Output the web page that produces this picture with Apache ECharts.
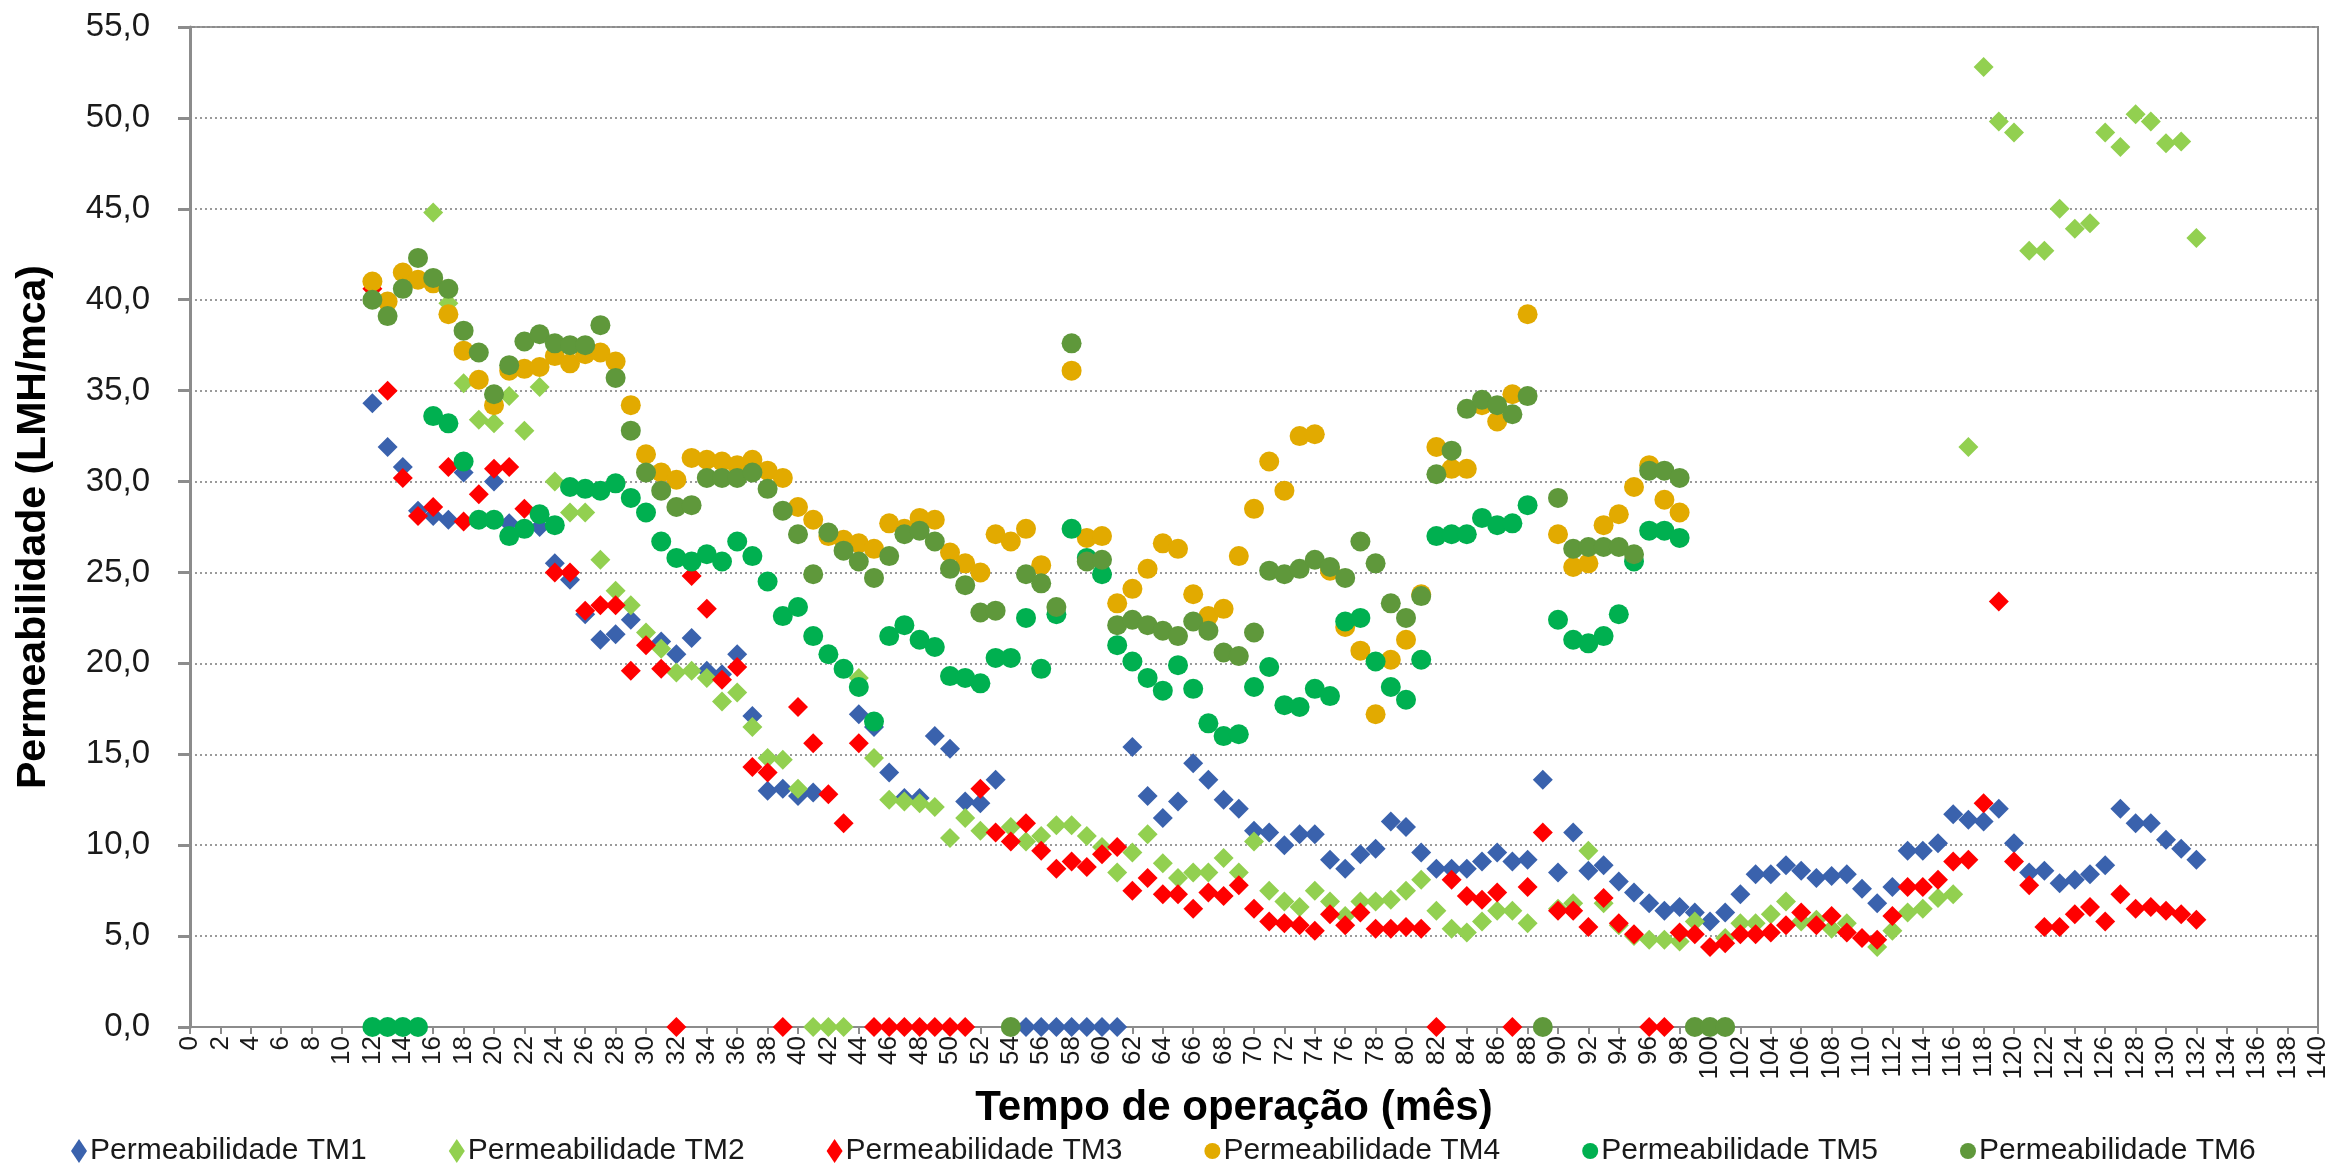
<!DOCTYPE html>
<html>
<head>
<meta charset="utf-8">
<script src="https://cdn.jsdelivr.net/npm/echarts@6/dist/echarts.min.js"></script>
<style>
  html, body { margin: 0; padding: 0; background: #fff; }
  #chart { width: 2331px; height: 1167px; }
</style>
</head>
<body>
<div id="chart"></div>
<script>
// meses de operação: cada série começa num mês e segue mês a mês
var tm1Start = 12;
var tm1 = [34.3, 31.9, 30.8, 28.4, 28.1, 27.9, 30.5, null, 30.0, 27.7,
  null, 27.5, 25.5, 24.6, 22.7, 21.3, 21.6, 22.4, null, 21.2,
  20.5, 21.4, 19.6, 19.4, 20.5, 17.1, 13.0, 13.1, 12.7, 12.9,
  null, null, 17.2, 16.5, 14.0, 12.6, 12.6, 16.0, 15.3, 12.4,
  12.3, 13.6, null, 0, 0, 0, 0, 0, 0, 0,
  15.4, 12.7, 11.5, 12.4, 14.5, 13.6, 12.5, 12.0, 10.8, 10.7,
  10.0, 10.6, 10.6, 9.2, 8.7, 9.5, 9.8, 11.3, 11.0, 9.6,
  8.7, 8.7, 8.7, 9.1, 9.6, 9.1, 9.2, 13.6, 8.5, 10.7,
  8.6, 8.9, 8.0, 7.4, 6.8, 6.4, 6.6, 6.3, 5.8, 6.3,
  7.3, 8.4, 8.4, 8.9, 8.6, 8.2, 8.3, 8.4, 7.6, 6.8,
  7.7, 9.7, 9.7, 10.1, 11.7, 11.4, 11.3, 12.0, 10.1, 8.5,
  8.6, 7.9, 8.1, 8.4, 8.9, 12.0, 11.2, 11.2, 10.3, 9.8,
  9.2];

var tm2Start = 12;
var tm2 = [null, null, null, null, 44.8, 39.8, 35.4, 33.4, 33.2, 34.7,
  32.8, 35.2, 30.0, 28.3, 28.3, 25.7, 24.0, 23.2, 21.7, 20.8,
  19.5, 19.6, 19.2, 17.9, 18.4, 16.5, 14.8, 14.7, 13.1, 0,
  0, 0, 19.2, 14.8, 12.5, 12.4, 12.3, 12.1, 10.4, 11.5,
  10.8, null, 11.0, 10.2, 10.5, 11.1, 11.1, 10.5, 9.9, 8.5,
  9.6, 10.6, 9.0, 8.2, 8.5, 8.5, 9.3, 8.5, 10.2, 7.5,
  6.9, 6.6, 7.5, 6.9, 6.1, 6.9, 6.9, 7.0, 7.5, 8.1,
  6.4, 5.4, 5.2, 5.8, 6.4, 6.4, 5.7, null, 6.5, 6.8,
  9.7, 6.8, 5.6, 5.0, 4.8, 4.8, 4.7, 5.8, null, 4.9,
  5.7, 5.7, 6.2, 6.9, 5.8, 5.9, 5.4, 5.7, null, 4.4,
  5.3, 6.3, 6.5, 7.1, 7.3, 31.9, 52.8, 49.8, 49.2, 42.7,
  42.7, 45.0, 43.9, 44.2, 49.2, 48.4, 50.2, 49.8, 48.6, 48.7,
  43.4];

var tm3Start = 12;
var tm3 = [40.6, 35.0, 30.2, 28.1, 28.6, 30.8, 27.8, 29.3, 30.7, 30.8,
  28.5, null, 25.0, 25.0, 22.9, 23.2, 23.2, 19.6, 21.0, 19.7,
  0, 24.8, 23.0, 19.1, 19.8, 14.3, 14.0, 0, 17.6, 15.6,
  12.8, 11.2, 15.6, 0, 0, 0, 0, 0, 0, 0,
  13.1, 10.7, 10.2, 11.2, 9.7, 8.7, 9.1, 8.8, 9.5, 9.9,
  7.5, 8.2, 7.3, 7.3, 6.5, 7.4, 7.2, 7.8, 6.5, 5.8,
  5.7, 5.6, 5.3, 6.2, 5.6, 6.3, 5.4, 5.4, 5.5, 5.4,
  0, 8.1, 7.2, 7.0, 7.4, 0, 7.7, 10.7, 6.4, 6.4,
  5.5, 7.1, 5.7, 5.1, 0, 0, 5.2, 5.1, 4.4, 4.6,
  5.1, 5.1, 5.2, 5.6, 6.3, 5.6, 6.1, 5.2, 4.9, 4.8,
  6.1, 7.7, 7.7, 8.1, 9.1, 9.2, 12.3, 23.4, 9.1, 7.8,
  5.5, 5.5, 6.2, 6.6, 5.8, 7.3, 6.5, 6.6, 6.4, 6.2,
  5.9];

var tm4Start = 12;
var tm4 = [41.0, 39.9, 41.5, 41.1, 40.9, 39.2, 37.2, 35.6, 34.2, 36.1,
  36.2, 36.3, 36.9, 36.5, 37.0, 37.1, 36.6, 34.2, 31.5, 30.5,
  30.1, 31.3, 31.2, 31.1, 30.9, 31.2, 30.6, 30.2, 28.6, 27.9,
  27.0, 26.8, 26.6, 26.3, 27.7, 27.4, 28.0, 27.9, 26.1, 25.5,
  25.0, 27.1, 26.7, 27.4, 25.4, null, 36.1, 26.9, 27.0, 23.3,
  24.1, 25.2, 26.6, 26.3, 23.8, 22.6, 23.0, 25.9, 28.5, 31.1,
  29.5, 32.5, 32.6, 25.1, 22.0, 20.7, 17.2, 20.2, 21.3, 23.8,
  31.9, 30.7, 30.7, 34.2, 33.3, 34.8, 39.2, null, 27.1, 25.3,
  25.5, 27.6, 28.2, 29.7, 30.9, 29.0, 28.3];

var tm5Start = 12;
var tm5 = [0, 0, 0, 0, 33.6, 33.2, 31.1, 27.9, 27.9, 27.0,
  27.4, 28.2, 27.6, 29.7, 29.6, 29.5, 29.9, 29.1, 28.3, 26.7,
  25.8, 25.6, 26.0, 25.6, 26.7, 25.9, 24.5, 22.6, 23.1, 21.5,
  20.5, 19.7, 18.7, 16.8, 21.5, 22.1, 21.3, 20.9, 19.3, 19.2,
  18.9, 20.3, 20.3, 22.5, 19.7, 22.7, 27.4, 25.8, 24.9, 21.0,
  20.1, 19.2, 18.5, 19.9, 18.6, 16.7, 16.0, 16.1, 18.7, 19.8,
  17.7, 17.6, 18.6, 18.2, 22.3, 22.5, 20.1, 18.7, 18.0, 20.2,
  27.0, 27.1, 27.1, 28.0, 27.6, 27.7, 28.7, null, 22.4, 21.3,
  21.1, 21.5, 22.7, 25.6, 27.3, 27.3, 26.9];

var tm6Start = 12;
var tm6 = [40.0, 39.1, 40.6, 42.3, 41.2, 40.6, 38.3, 37.1, 34.8, 36.4,
  37.7, 38.1, 37.6, 37.5, 37.5, 38.6, 35.7, 32.8, 30.5, 29.5,
  28.6, 28.7, 30.2, 30.2, 30.2, 30.5, 29.6, 28.4, 27.1, 24.9,
  27.2, 26.2, 25.6, 24.7, 25.9, 27.1, 27.3, 26.7, 25.2, 24.3,
  22.8, 22.9, 0, 24.9, 24.4, 23.1, 37.6, 25.6, 25.7, 22.1,
  22.4, 22.1, 21.8, 21.5, 22.3, 21.8, 20.6, 20.4, 21.7, 25.1,
  24.9, 25.2, 25.7, 25.3, 24.7, 26.7, 25.5, 23.3, 22.5, 23.7,
  30.4, 31.7, 34.0, 34.5, 34.2, 33.7, 34.7, 0, 29.1, 26.3,
  26.4, 26.4, 26.4, 26.0, 30.6, 30.6, 30.2, 0, 0, 0];

var seriesNames = ['Permeabilidade TM1', 'Permeabilidade TM2', 'Permeabilidade TM3',
  'Permeabilidade TM4', 'Permeabilidade TM5', 'Permeabilidade TM6'];
var seriesColors = ['#3a62ad', '#92d050', '#ff0000', '#e2aa00', '#00b050', '#5f983b'];
var seriesSymbols = ['diamond', 'diamond', 'diamond', 'circle', 'circle', 'circle'];

function toPoints(start, values) {
  var pts = [];
  values.forEach(function (v, i) {
    if (v !== null) pts.push([start + i, v]);
  });
  return pts;
}

var allData = [
  toPoints(tm1Start, tm1), toPoints(tm2Start, tm2), toPoints(tm3Start, tm3),
  toPoints(tm4Start, tm4), toPoints(tm5Start, tm5), toPoints(tm6Start, tm6)
];

var font = "'Liberation Sans', Arial, sans-serif";

var chart = echarts.init(document.getElementById('chart'));

var option = {
  backgroundColor: '#fff',
  animation: false,
  textStyle: { fontFamily: font },
  grid: {
    left: 190, right: 13, top: 27, bottom: 140,
    show: true, borderColor: '#8c8c8c', borderWidth: 2
  },
  legend: {
    data: seriesNames.map(function (n, i) { return { name: n, icon: seriesSymbols[i] }; }),
    left: 66, top: 1131,
    itemWidth: 16, itemHeight: 24, itemGap: 82,
    textStyle: { fontFamily: font, fontSize: 30, color: '#1a1a1a', padding: [0, 0, 0, -2] }
  },
  xAxis: {
    type: 'value',
    min: 0, max: 140, interval: 2,
    name: 'Tempo de operação (mês)',
    nameLocation: 'middle', nameGap: 54,
    nameTextStyle: { fontFamily: font, fontSize: 42, fontWeight: 'bold', color: '#000', padding: [0, 40, 0, 0] },
    axisLine: { show: true, lineStyle: { color: '#8c8c8c', width: 2 } },
    axisTick: { show: true, length: 7, lineStyle: { color: '#8c8c8c', width: 2 } },
    axisLabel: { rotate: 90, fontSize: 26, margin: 9, color: '#1a1a1a', fontFamily: font },
    splitLine: { show: false }
  },
  yAxis: {
    type: 'value',
    min: 0, max: 55, interval: 5,
    name: 'Permeabilidade (LMH/mca)',
    nameLocation: 'middle', nameGap: 136,
    nameTextStyle: { fontFamily: font, fontSize: 41, fontWeight: 'bold', color: '#000' },
    axisLine: { show: true, lineStyle: { color: '#8c8c8c', width: 3 } },
    axisTick: { show: true, length: 12, lineStyle: { color: '#8c8c8c', width: 3 } },
    axisLabel: {
      fontSize: 33, margin: 40, color: '#1a1a1a', fontFamily: font,
      formatter: function (v) { return v.toFixed(1).replace('.', ','); }
    },
    splitLine: { show: true, lineStyle: { type: [2, 3], color: '#9a9a9a', width: 2 } }
  },
  series: seriesNames.map(function (n, i) {
    return {
      name: n,
      type: 'scatter',
      symbol: seriesSymbols[i],
      symbolSize: 20,
      itemStyle: { color: seriesColors[i], opacity: 1 },
      data: allData[i]
    };
  })
};

chart.setOption(option);
</script>
</body>
</html>
